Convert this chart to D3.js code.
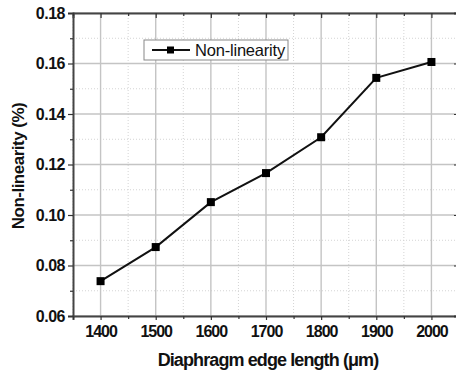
<!DOCTYPE html>
<html>
<head>
<meta charset="utf-8">
<script src="https://cdn.jsdelivr.net/npm/d3@7"></script>
<style>
  body { margin: 0; background: #fff; }
  svg { display: block; font-family: "Liberation Sans", Arial, sans-serif; }
</style>
</head>
<body>
<svg id="chart" width="456" height="375"></svg>
<script>
// chart data
const edgeLengths = [1400, 1500, 1600, 1700, 1800, 1900, 2000]
const nonLinearity = [0.0738, 0.0873, 0.1051, 0.1166, 0.1308, 0.1543, 0.1606]
const xTicks = [1400, 1500, 1600, 1700, 1800, 1900, 2000]
const yTicks = [0.06, 0.08, 0.10, 0.12, 0.14, 0.16, 0.18]
const seriesName = "Non-linearity"

const margin = { top: 13, right: -3, bottom: 59, left: 73 }
const width = 456, height = 375

const svg = d3.select("#chart")

const x = d3.scaleLinear()
  .domain([1350, 2050])
  .range([margin.left, width - margin.right])

const y = d3.scaleLinear()
  .domain([0.06, 0.18])
  .range([height - margin.bottom, margin.top])

const xMinor = d3.range(1350, 2051, 50).filter(v => v % 100 !== 0)
const yMinor = d3.range(0.07, 0.18, 0.02)

// grid, minor dotted
const grid = svg.append("g")
grid.selectAll(".xm").data(xMinor).join("line")
  .attr("x1", d => x(d)).attr("x2", d => x(d))
  .attr("y1", y(0.06)).attr("y2", y(0.18))
  .attr("stroke", "#d4d4d4").attr("stroke-dasharray", "1,2")
grid.selectAll(".ym").data(yMinor).join("line")
  .attr("y1", d => y(d)).attr("y2", d => y(d))
  .attr("x1", x(1350)).attr("x2", x(2050))
  .attr("stroke", "#d4d4d4").attr("stroke-dasharray", "1,2")

// grid, major
grid.selectAll(".xg").data(xTicks).join("line")
  .attr("x1", d => x(d)).attr("x2", d => x(d))
  .attr("y1", y(0.06)).attr("y2", y(0.18))
  .attr("stroke", "#c4c4c4").attr("stroke-width", 1.4)
grid.selectAll(".yg").data(yTicks).join("line")
  .attr("y1", d => y(d)).attr("y2", d => y(d))
  .attr("x1", x(1350)).attr("x2", x(2050))
  .attr("stroke", "#c4c4c4").attr("stroke-width", 1.4)

// axes
const fmtY = d3.format(".2f")
const xAxis = svg.append("g")
  .attr("transform", `translate(0,${y(0.06)})`)
  .call(d3.axisBottom(x).tickValues(xTicks).tickSize(4).tickPadding(6).tickFormat(d3.format("d")))
const yAxis = svg.append("g")
  .attr("transform", `translate(${x(1350)},0)`)
  .call(d3.axisLeft(y).tickValues(yTicks).tickSize(5).tickPadding(3).tickFormat(fmtY))
const topAxis = svg.append("g")
  .attr("transform", `translate(0,${y(0.18)})`)
  .call(d3.axisTop(x).tickValues(xTicks).tickSize(-5).tickFormat(""))
const rightAxis = svg.append("g")
  .attr("transform", `translate(${x(2050)},0)`)
  .call(d3.axisRight(y).tickValues(yTicks).tickSize(-5).tickFormat(""))

// minor ticks
svg.append("g").attr("transform", `translate(0,${y(0.06)})`)
  .call(d3.axisBottom(x).tickValues(xMinor).tickSize(3).tickFormat(""))
  .select(".domain").remove()
svg.append("g").attr("transform", `translate(${x(1350)},0)`)
  .call(d3.axisLeft(y).tickValues(yMinor).tickSize(3).tickFormat(""))
  .select(".domain").remove()
svg.append("g").attr("transform", `translate(0,${y(0.18)})`)
  .call(d3.axisTop(x).tickValues(xMinor).tickSize(-3).tickFormat(""))
  .select(".domain").remove()
svg.append("g").attr("transform", `translate(${x(2050)},0)`)
  .call(d3.axisRight(y).tickValues(yMinor).tickSize(-3).tickFormat(""))
  .select(".domain").remove()

svg.selectAll(".domain").attr("stroke", "#444").attr("stroke-width", 2)
svg.selectAll(".tick line").attr("stroke", "#333").attr("stroke-width", 1.2)
xAxis.selectAll(".tick text")
  .attr("fill", "#111")
  .style("font-size", "16px")
  .style("font-weight", "bold")
  .style("letter-spacing", "-1px")
yAxis.selectAll(".tick text")
  .attr("fill", "#111")
  .style("font-size", "16px")
  .style("font-weight", "bold")
  .style("letter-spacing", "-0.5px")

// line + markers
const line = d3.line()
  .x((d, i) => x(edgeLengths[i]))
  .y(d => y(d))

svg.append("path")
  .datum(nonLinearity)
  .attr("fill", "none")
  .attr("stroke", "#111")
  .attr("stroke-width", 2)
  .attr("d", line)

svg.selectAll(".pt").data(nonLinearity).join("rect")
  .attr("x", (d, i) => x(edgeLengths[i]) - 4)
  .attr("y", d => y(d) - 4)
  .attr("width", 8).attr("height", 8)
  .attr("fill", "#000")

// legend
const legend = svg.append("g").attr("transform", "translate(144,40)")
legend.append("rect")
  .attr("width", 144).attr("height", 20)
  .attr("fill", "#fff").attr("stroke", "#888").attr("stroke-width", 1)
legend.append("line")
  .attr("x1", 8).attr("x2", 46).attr("y1", 10).attr("y2", 10)
  .attr("stroke", "#111").attr("stroke-width", 2)
legend.append("rect")
  .attr("x", 23).attr("y", 6.5).attr("width", 7).attr("height", 7).attr("fill", "#000")
legend.append("text")
  .attr("x", 51).attr("y", 15.5)
  .style("font-size", "16.5px")
  .style("letter-spacing", "-0.2px")
  .attr("fill", "#111")
  .text(seriesName)

// axis titles
svg.append("text")
  .attr("x", 268).attr("y", 366)
  .attr("text-anchor", "middle")
  .style("font-size", "18px").style("font-weight", "bold")
  .style("letter-spacing", "-0.9px")
  .attr("fill", "#111")
  .text("Diaphragm edge length (μm)")

svg.append("text")
  .attr("transform", "translate(24,166) rotate(-90)")
  .attr("text-anchor", "middle")
  .style("font-size", "17px").style("font-weight", "bold")
  .style("letter-spacing", "-0.5px")
  .attr("fill", "#111")
  .text("Non-linearity (%)")
</script>
</body>
</html>
